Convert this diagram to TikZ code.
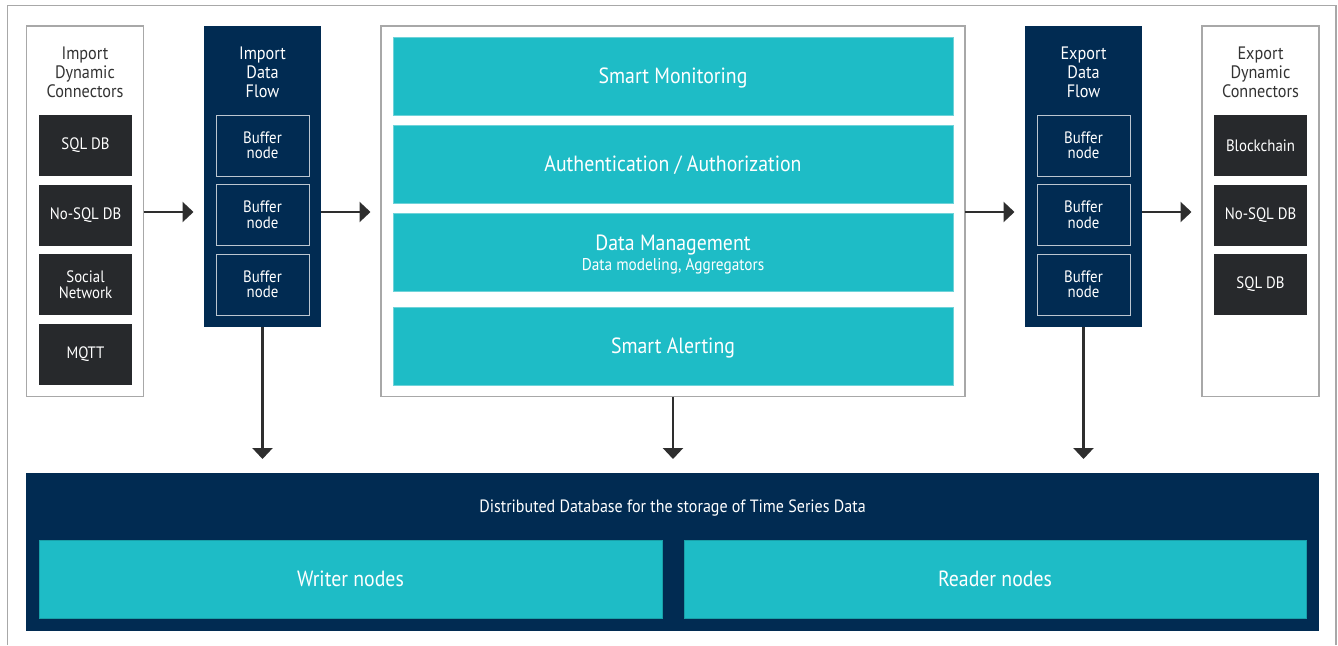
\documentclass[tikz,border=0pt]{standalone}
\usepackage{fontspec}
\setmainfont{PT Sans}[FakeStretch=0.9]
\usetikzlibrary{arrows.meta}
\definecolor{teal1}{HTML}{1EBCC6}
\definecolor{tealedge}{HTML}{6FD3D9}
\definecolor{navy}{HTML}{012B52}
\definecolor{darkbox}{HTML}{27292C}
\definecolor{grayline}{HTML}{A8A8A8}
\definecolor{arrowc}{HTML}{2E2E2E}
\definecolor{bufedge}{HTML}{BCC6D0}
\definecolor{titletext}{HTML}{333333}
\newcommand{\fs}[1]{\fontsize{#1}{#1}\selectfont}
\begin{document}
\begin{tikzpicture}[x=1pt,y=-1pt,
  every node/.style={inner sep=0pt, outer sep=0pt},
  colbox/.style={draw=grayline, line width=1.3pt, fill=white},
  flowbox/.style={fill=navy},
  connbox/.style={fill=darkbox, text=white, minimum width=93pt, minimum height=61pt, align=center, font=\fs{16.5}},
  bufbox/.style={draw=bufedge, line width=1pt, text=white, minimum width=93pt, minimum height=61pt, align=center, font=\fs{16.5}},
  bar/.style={fill=teal1, draw=tealedge, line width=0.6pt, text=white, minimum width=560pt, minimum height=78pt, align=center, font=\fs{22}, text depth=0pt},
  dbbar/.style={fill=teal1, draw=teal1!85!black, line width=0.6pt, text=white, minimum height=78pt, align=center, font=\fs{22}, text depth=0pt},
  coltitle/.style={align=center, font=\fontsize{18}{19}\selectfont},
  arr/.style={draw=arrowc, line width=2.4pt, -{Triangle[length=11pt,width=20pt]}},
  frame/.style={draw=grayline, line width=1.3pt}
]
\useasboundingbox (0,0) rectangle (1338,645);
% outer frame
\draw[frame] (7.5,645) -- (7.5,5.5) -- (1336,5.5) -- (1336,645);

% columns
\node[colbox, minimum width=117pt, minimum height=370.5pt] (impconn) at (85,211.25) {};
\node[flowbox, minimum width=117pt, minimum height=301pt] (impflow) at (262.5,176.5) {};
\node[colbox, minimum width=584pt, minimum height=370.5pt] (mid) at (673,211.25) {};
\node[flowbox, minimum width=117pt, minimum height=301pt] (expflow) at (1083.5,176.5) {};
\node[colbox, minimum width=117pt, minimum height=370.5pt] (expconn) at (1260.5,211.25) {};

% titles
\node[coltitle, text=titletext] (t1) at (85,72) {Import\\Dynamic\\Connectors};
\node[coltitle, text=white] (t2) at (262.5,72) {Import\\Data\\Flow};
\node[coltitle, text=white] (t3) at (1083.5,72) {Export\\Data\\Flow};
\node[coltitle, text=titletext] (t4) at (1260.5,72) {Export\\Dynamic\\Connectors};

% import connectors
\node[connbox] (ic1) at (85.5,145.5) {SQL DB};
\node[connbox] (ic2) at (85.5,215) {No-SQL DB};
\node[connbox] (ic3) at (85.5,284.5) {Social\\[-1pt]Network};
\node[connbox] (ic4) at (85.5,354) {MQTT};

% import buffers
\node[bufbox] (ib1) at (262.5,145.5) {Buffer\\[-1pt]node};
\node[bufbox] (ib2) at (262.5,215) {Buffer\\[-1pt]node};
\node[bufbox] (ib3) at (262.5,284.5) {Buffer\\[-1pt]node};

% export buffers
\node[bufbox] (eb1) at (1083.5,145.5) {Buffer\\[-1pt]node};
\node[bufbox] (eb2) at (1083.5,215) {Buffer\\[-1pt]node};
\node[bufbox] (eb3) at (1083.5,284.5) {Buffer\\[-1pt]node};

% export connectors
\node[connbox] (ec1) at (1260.5,145.5) {Blockchain};
\node[connbox] (ec2) at (1260.5,215) {No-SQL DB};
\node[connbox] (ec3) at (1260.5,284.5) {SQL DB};

% middle bars
\node[bar] (sm) at (673,76) {Smart Monitoring};
\node[bar] (auth) at (673,164) {Authentication / Authorization};
\node[bar] (dm) at (673,252) {};
\node[text=white, font=\fs{22}] (dmt) at (673,245.5) {Data Management};
\node[text=white, font=\fs{17}] (dms) at (673,266) {Data modeling, Aggregators};
\node[bar] (sa) at (673,346) {Smart Alerting};

% database
\node[fill=navy, minimum width=1293pt, minimum height=158pt] (db) at (672.5,552) {};
\node[text=white, font=\fs{17.8}] (dbt) at (672.5,508) {Distributed Database for the storage of Time Series Data};
\node[dbbar, minimum width=623pt] (wr) at (350.5,579) {Writer nodes};
\node[dbbar, minimum width=622pt] (rd) at (995,579) {Reader nodes};

% arrows
\draw[arr, shorten >=10.5pt] ([yshift=3pt]impconn.east |- ib2) -- ([yshift=3pt]impflow.west |- ib2);
\draw[arr, shorten >=10.5pt] ([yshift=3pt]impflow.east |- ib2) -- ([yshift=3pt]mid.west |- ib2);
\draw[arr, shorten >=10.5pt] ([yshift=3pt]mid.east |- eb2) -- ([yshift=3pt]expflow.west |- eb2);
\draw[arr, shorten >=10.5pt] ([yshift=3pt]expflow.east |- eb2) -- ([yshift=3pt]expconn.west |- eb2);

\draw[arr, shorten >=14pt] (impflow.south) -- (impflow.south |- db.north);
\draw[arr, shorten >=14pt] (mid.south) -- (mid.south |- db.north);
\draw[arr, shorten >=14pt] (expflow.south) -- (expflow.south |- db.north);
\end{tikzpicture}
\end{document}
